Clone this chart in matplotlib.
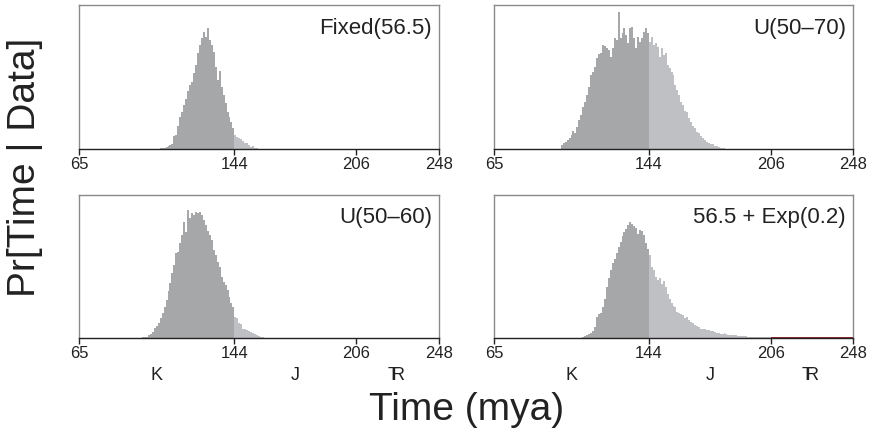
#!/usr/bin/env python3
"""Posterior divergence-time histograms under four calibration priors."""

from __future__ import annotations

import matplotlib

matplotlib.use("Agg")

import matplotlib.pyplot as plt
import numpy as np

OUTPUT_PATH = "out.png"

# geologic period boundaries (mya) and labels
PERIOD_EDGES = [65, 144, 206, 248]
PERIOD_LABELS = ["K", "J", "Tr"]
PERIOD_COLORS = ["#a6a7a9", "#bfc0c4", "#9b2a2a"]
TICKS = [65, 144, 206, 248]

PRIOR_LABELS = ["Fixed(56.5)", "U(50\u201370)", "U(50\u201360)", "56.5 + Exp(0.2)"]

# histogram heights, 1-mya bins, as a fraction of panel height
FIXED_START = 105
FIXED_HEIGHTS = [
    0.0, 0.005, 0.01, 0.01, 0.016, 0.02, 0.027, 0.035, 0.09, 0.10,
    0.16, 0.225, 0.26, 0.306, 0.35, 0.40, 0.445, 0.467, 0.525, 0.583,
    0.664, 0.72, 0.77, 0.815, 0.78, 0.84, 0.757, 0.72, 0.676, 0.57,
    0.48, 0.54, 0.432, 0.375, 0.317, 0.26, 0.225, 0.19, 0.144, 0.097,
    0.086, 0.074, 0.067, 0.058, 0.044, 0.039, 0.027, 0.016, 0.02, 0.01,
    0.007, 0.002,
]

U5070_START = 99
U5070_HEIGHTS = [
    0.03, 0.04, 0.046, 0.063, 0.079, 0.097, 0.125, 0.109, 0.155, 0.20,
    0.236, 0.294, 0.324, 0.375, 0.433, 0.514, 0.537, 0.572, 0.63, 0.657,
    0.664, 0.722, 0.715, 0.699, 0.687, 0.641, 0.70, 0.77, 0.757, 0.954,
    0.77, 0.803, 0.838, 0.792, 0.734, 0.838, 0.85, 0.77, 0.70, 0.78,
    0.745, 0.769, 0.815, 0.838, 0.803, 0.745, 0.78, 0.722, 0.734, 0.711,
    0.641, 0.70, 0.653, 0.664, 0.583, 0.56, 0.537, 0.514, 0.444, 0.41,
    0.375, 0.329, 0.306, 0.264, 0.26, 0.213, 0.19, 0.162, 0.144, 0.12,
    0.109, 0.093, 0.074, 0.063, 0.051, 0.044, 0.037, 0.032, 0.023, 0.019,
    0.014, 0.009, 0.007, 0.005,
]

U5060_START = 97
U5060_HEIGHTS = [
    0.005, 0.007, 0.009, 0.019, 0.026, 0.044, 0.068, 0.086, 0.103, 0.138,
    0.172, 0.215, 0.266, 0.331, 0.382, 0.452, 0.51, 0.592, 0.604, 0.662,
    0.72, 0.814, 0.744, 0.895, 0.837, 0.872, 0.86, 0.884, 0.872, 0.884,
    0.86, 0.825, 0.79, 0.75, 0.72, 0.685, 0.615, 0.58, 0.534, 0.499,
    0.429, 0.394, 0.371, 0.336, 0.289, 0.243, 0.219, 0.149, 0.138, 0.103,
    0.098, 0.065, 0.061, 0.056, 0.051, 0.044, 0.033, 0.026, 0.019, 0.012,
    0.007, 0.005,
]

EXP_START = 109
EXP_HEIGHTS = [
    0.002, 0.009, 0.014, 0.019, 0.026, 0.033, 0.051, 0.075, 0.149, 0.168,
    0.177, 0.219, 0.27, 0.354, 0.417, 0.476, 0.522, 0.55, 0.597, 0.634,
    0.674, 0.713, 0.741, 0.76, 0.79, 0.811, 0.797, 0.783, 0.767, 0.727,
    0.755, 0.751, 0.72, 0.662, 0.62, 0.58, 0.499, 0.476, 0.429, 0.406,
    0.417, 0.378, 0.401, 0.354, 0.308, 0.27, 0.247, 0.224, 0.214, 0.184,
    0.177, 0.168, 0.161, 0.137, 0.144, 0.126, 0.114, 0.103, 0.091, 0.084,
    0.075, 0.065, 0.063, 0.061, 0.056, 0.054, 0.051, 0.047, 0.042, 0.037,
    0.033, 0.028, 0.03, 0.033, 0.026, 0.023, 0.023, 0.023, 0.019, 0.019,
    0.016, 0.014, 0.014, 0.012, 0.012, 0.009, 0.009, 0.009, 0.007, 0.007,
    0.007, 0.005, 0.005, 0.005, 0.005, 0.004, 0.004,
    # Triassic tail (206-248)
    0.008, 0.009, 0.008, 0.008, 0.009, 0.010, 0.008, 0.008, 0.009, 0.008,
    0.008, 0.009, 0.008, 0.009, 0.008, 0.008, 0.010, 0.008, 0.008, 0.009,
    0.008, 0.008, 0.009, 0.008, 0.009, 0.008, 0.008, 0.010, 0.009, 0.008,
    0.008, 0.009, 0.008, 0.009, 0.008, 0.008, 0.009, 0.008, 0.008, 0.009,
    0.008, 0.008,
]

PANELS = [
    (FIXED_START, FIXED_HEIGHTS),
    (U5070_START, U5070_HEIGHTS),
    (U5060_START, U5060_HEIGHTS),
    (EXP_START, EXP_HEIGHTS),
]

# axes boxes in figure pixels (left, top, right, bottom)
FIG_W, FIG_H = 872, 440
BOXES = [(79, 5, 439, 149), (494, 5, 853, 149), (79, 195, 439, 338), (494, 195, 853, 338)]


def apply_style() -> None:
    plt.rcParams.update(
        {
            "font.family": ["Liberation Sans", "DejaVu Sans"],
            "axes.linewidth": 1.0,
            "xtick.major.width": 1.0,
            "xtick.major.size": 4.0,
            "xtick.labelsize": 12,
            "xtick.major.pad": 1.5,
            "text.color": "#222222",
        }
    )


def draw_histogram(ax: plt.Axes, start: int, heights: list[float]) -> None:
    values = np.asarray(heights, dtype=float)
    edges = start + np.arange(len(values) + 1)
    for lo, hi, color in zip(PERIOD_EDGES[:-1], PERIOD_EDGES[1:], PERIOD_COLORS):
        mask = (edges[:-1] >= lo) & (edges[:-1] < hi)
        if not mask.any():
            continue
        idx = np.flatnonzero(mask)
        seg_edges = edges[idx[0] : idx[-1] + 2]
        ax.stairs(values[idx], seg_edges, fill=True, color=color, linewidth=0)


def style_axes(ax: plt.Axes) -> None:
    ax.set_xlim(PERIOD_EDGES[0], PERIOD_EDGES[-1])
    ax.set_ylim(0, 1)
    ax.set_xticks(TICKS)
    ax.set_xticklabels([str(t) for t in TICKS])
    ax.set_yticks([])
    for side in ("top", "left", "right"):
        ax.spines[side].set_color("#8a8a8a")
    ax.spines["bottom"].set_color("#222222")
    ax.spines["bottom"].set_zorder(5)
    ax.tick_params(axis="x", colors="#222222")


def add_period_labels(ax: plt.Axes) -> None:
    mids = [(lo + hi) / 2 for lo, hi in zip(PERIOD_EDGES[:-1], PERIOD_EDGES[1:])]
    for mid, label in zip(mids, PERIOD_LABELS):
        if label == "Tr":
            # Triassic symbol: T stroke overlaid on an R
            ax.annotate("R", (mid, -0.265), xycoords=("data", "axes fraction"),
                        ha="center", va="center", fontsize=13, annotation_clip=False)
            ax.annotate("T", (mid, -0.265), xycoords=("data", "axes fraction"),
                        xytext=(-3.4, 0), textcoords="offset points",
                        ha="center", va="center", fontsize=13, annotation_clip=False)
        else:
            ax.annotate(label, (mid, -0.265), xycoords=("data", "axes fraction"),
                        ha="center", va="center", fontsize=13, annotation_clip=False)


def main() -> int:
    apply_style()
    fig = plt.figure(figsize=(FIG_W / 100, FIG_H / 100), dpi=100)

    for i, ((start, heights), label, box) in enumerate(zip(PANELS, PRIOR_LABELS, BOXES)):
        left, top, right, bottom = box
        ax = fig.add_axes(
            [left / FIG_W, 1 - bottom / FIG_H, (right - left) / FIG_W, (bottom - top) / FIG_H]
        )
        draw_histogram(ax, start, heights)
        style_axes(ax)
        ax.text(0.98, 0.84, label, transform=ax.transAxes, ha="right", va="center", fontsize=16)
        if i >= 2:
            add_period_labels(ax)

    fig.text(0.029, 0.62, "Pr[Time | Data]", rotation=90, ha="center", va="center", fontsize=28)
    fig.text(0.5356, 0.068, "Time (mya)", ha="center", va="center", fontsize=28)

    fig.savefig(OUTPUT_PATH, dpi=100)
    plt.close(fig)
    return 0


if __name__ == "__main__":
    raise SystemExit(main())
